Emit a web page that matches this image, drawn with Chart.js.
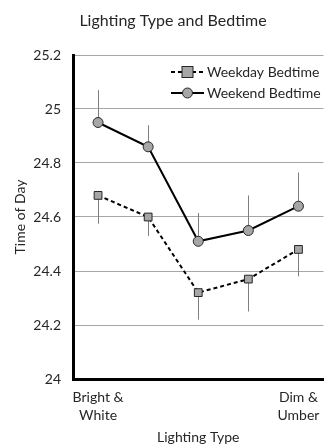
<!DOCTYPE html>
<html>
<head>
<meta charset="utf-8">
<script src="https://cdn.jsdelivr.net/npm/chart.js@4/dist/chart.umd.min.js"></script>
<style>
html,body{margin:0;padding:0;background:#fff;overflow:hidden;}
#wrap{width:330px;height:444px;position:relative;}
</style>
</head>
<body>
<div id="wrap"><canvas id="c"></canvas></div>
<script>
const chartTitle = 'Lighting Type and Bedtime';
const categories = [['Bright &','White'], '', '', '', ['Dim &','Umber']];
const seriesNames = ['Weekday Bedtime', 'Weekend Bedtime'];
const weekday = [24.68, 24.60, 24.32, 24.37, 24.48];
const weekdayErr = [0.105, 0.07, 0.10, 0.12, 0.10];   // drawn downward
const weekend = [24.95, 24.86, 24.51, 24.55, 24.64];
const weekendErr = [0.12, 0.08, 0.105, 0.13, 0.125];  // drawn upward
const yMin = 24, yMax = 25.2, yStep = 0.2;
const xTitle = 'Lighting Type';
const yTitle = 'Time of Day';

const FONT = 'Lato, "Open Sans", sans-serif';
const markFill = '#a6a6a6';
const markLine = '#262626';

const errorBars = {
  id: 'errorBars',
  beforeDatasetsDraw(chart) {
    const {ctx, scales: {x, y}} = chart;
    ctx.save();
    ctx.strokeStyle = '#7f7f7f';
    ctx.lineWidth = 1;
    const sets = [[weekday, weekdayErr, -1], [weekend, weekendErr, 1]];
    sets.forEach(([vals, errs, dir]) => {
      vals.forEach((v, i) => {
        const px = Math.round(x.getPixelForValue(i)) + 0.5;
        ctx.beginPath();
        ctx.moveTo(px, y.getPixelForValue(v));
        ctx.lineTo(px, y.getPixelForValue(v + dir * errs[i]));
        ctx.stroke();
      });
    });
    ctx.restore();
  }
};

const customText = {
  id: 'customText',
  afterDraw(chart) {
    const {ctx, chartArea} = chart;
    ctx.save();
    ctx.fillStyle = '#262626';
    ctx.font = '16px ' + FONT;
    ctx.textAlign = 'center';
    ctx.textBaseline = 'middle';
    ctx.fillText(chartTitle, 173, 21);
    const lx = 171, lw = 33;
    const rows = [
      {name: seriesNames[0], dash: [4, 3], shape: 'rect', y: chartArea.top + 17},
      {name: seriesNames[1], dash: [], shape: 'circle', y: chartArea.top + 38}
    ];
    rows.forEach(r => {
      ctx.strokeStyle = '#000';
      ctx.lineWidth = 2;
      ctx.setLineDash(r.dash);
      ctx.beginPath();
      ctx.moveTo(lx, r.y);
      ctx.lineTo(lx + lw, r.y);
      ctx.stroke();
      ctx.setLineDash([]);
      ctx.fillStyle = markFill;
      ctx.strokeStyle = markLine;
      ctx.lineWidth = 1;
      const cx = lx + lw / 2;
      if (r.shape === 'rect') {
        ctx.fillRect(cx - 5.5, r.y - 5.5, 11, 11);
        ctx.strokeRect(cx - 5.5, r.y - 5.5, 11, 11);
      } else {
        ctx.beginPath();
        ctx.arc(cx, r.y, 5, 0, Math.PI * 2);
        ctx.fill();
        ctx.stroke();
      }
      ctx.fillStyle = '#262626';
      ctx.font = '14px ' + FONT;
      ctx.textAlign = 'left';
      ctx.fillText(r.name, lx + lw + 3, r.y);
    });
    ctx.restore();
  }
};

new Chart(document.getElementById('c'), {
  type: 'line',
  data: {
    labels: categories,
    datasets: [
      {
        label: seriesNames[0],
        data: weekday,
        borderColor: '#000',
        borderWidth: 2,
        borderDash: [4, 3],
        pointStyle: 'rect',
        pointRadius: 5.5,
        pointBackgroundColor: markFill,
        pointBorderColor: markLine,
        pointBorderWidth: 1,
        tension: 0
      },
      {
        label: seriesNames[1],
        data: weekend,
        borderColor: '#000',
        borderWidth: 2,
        pointStyle: 'circle',
        pointRadius: 5,
        pointBackgroundColor: markFill,
        pointBorderColor: markLine,
        pointBorderWidth: 1,
        tension: 0
      }
    ]
  },
  options: {
    responsive: true,
    maintainAspectRatio: false,
    animation: false,
    events: [],
    layout: {padding: {top: 55, right: 2, left: 0, bottom: 0}},
    plugins: {
      legend: {display: false},
      title: {display: false},
      tooltip: {enabled: false}
    },
    scales: {
      x: {
        offset: true,
        grid: {display: false, drawTicks: false},
        border: {display: true, color: '#000', width: 3},
        ticks: {
          color: '#262626',
          font: {family: FONT, size: 14, lineHeight: 1.3},
          padding: 9,
          autoSkip: false,
          maxRotation: 0
        },
        title: {
          display: true,
          text: xTitle,
          color: '#262626',
          font: {family: FONT, size: 14},
          padding: {top: 0, bottom: -2}
        },
        afterFit(s) { s.height = 65; }
      },
      y: {
        min: yMin,
        max: yMax,
        grid: {color: '#a6a6a6', lineWidth: 1, drawTicks: false},
        border: {display: true, color: '#000', width: 3},
        ticks: {
          stepSize: yStep,
          color: '#262626',
          font: {family: FONT, size: 14},
          padding: 12,
          callback: v => String(Number(v.toFixed(1)))
        },
        title: {
          display: true,
          text: yTitle,
          color: '#262626',
          font: {family: FONT, size: 14},
          padding: {top: 12, bottom: 0}
        },
        afterFit(s) { s.width = 73; }
      }
    }
  },
  plugins: [errorBars, customText]
});
</script>
</body>
</html>
